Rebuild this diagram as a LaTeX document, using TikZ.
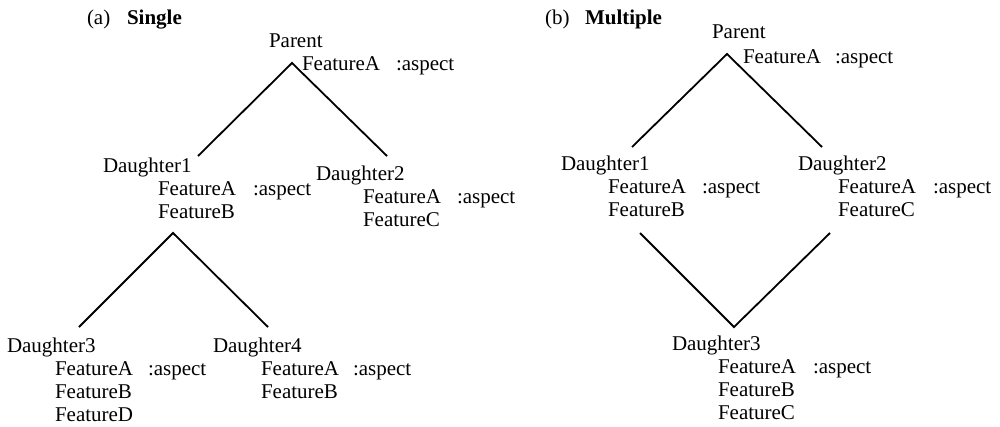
\documentclass[tikz,border=0pt]{standalone}
\usepackage{fontspec}
\setmainfont{Liberation Serif}
\begin{document}
\begin{tikzpicture}[x=1pt,y=-1pt,
  txt/.style={anchor=base west,inner sep=0pt,outer sep=0pt,font=\fontsize{21}{24}\selectfont},
  edge/.style={line width=1.8pt,line join=miter}]
\useasboundingbox (0,0) rectangle (1000,426);

% ---------- (a) Single ----------
\node[txt] (ta) at (87,24) {(a)};
\node[txt] (taw) at (127,24) {\textbf{Single}};
\node[txt] (aP) at (269,47) {Parent};
\node[txt] (aPf) at (302,70) {FeatureA};
\node[txt] (aPa) at (396,70) {:aspect};

\node[txt] (aD1) at (103,172) {Daughter1};
\node[txt] (aD1f1) at (158,195) {FeatureA};
\node[txt] (aD1a) at (253,195) {:aspect};
\node[txt] (aD1f2) at (158,218) {FeatureB};

\node[txt] (aD2) at (316,180) {Daughter2};
\node[txt] (aD2f1) at (363,203) {FeatureA};
\node[txt] (aD2a) at (457,203) {:aspect};
\node[txt] (aD2f2) at (363,226) {FeatureC};

\node[txt] (aD3) at (7,352) {Daughter3};
\node[txt] (aD3f1) at (55,375) {FeatureA};
\node[txt] (aD3a) at (148,375) {:aspect};
\node[txt] (aD3f2) at (55,398) {FeatureB};
\node[txt] (aD3f3) at (55,421) {FeatureD};

\node[txt] (aD4) at (213,352) {Daughter4};
\node[txt] (aD4f1) at (261,375) {FeatureA};
\node[txt] (aD4a) at (353,375) {:aspect};
\node[txt] (aD4f2) at (261,398) {FeatureB};

\coordinate (aPtop) at (292,63);
\coordinate (aD1up) at (198,156);
\coordinate (aD2up) at (387,156);
\coordinate (aD1low) at (173,233);
\coordinate (aD3up) at (79,327);
\coordinate (aD4up) at (268,327);

\draw[edge] (aD1up) -- (aPtop) -- (aD2up);
\draw[edge] (aD3up) -- (aD1low) -- (aD4up);

% ---------- (b) Multiple ----------
\node[txt] (tb) at (545,24) {(b)};
\node[txt] (tbw) at (585,24) {\textbf{Multiple}};
\node[txt] (bP) at (712,38) {Parent};
\node[txt] (bPf) at (743,63) {FeatureA};
\node[txt] (bPa) at (835,63) {:aspect};

\node[txt] (bD1) at (561,170) {Daughter1};
\node[txt] (bD1f1) at (608,193) {FeatureA};
\node[txt] (bD1a) at (702,193) {:aspect};
\node[txt] (bD1f2) at (608,216) {FeatureB};

\node[txt] (bD2) at (798,170) {Daughter2};
\node[txt] (bD2f1) at (838,193) {FeatureA};
\node[txt] (bD2a) at (933,193) {:aspect};
\node[txt] (bD2f2) at (838,216) {FeatureC};

\node[txt] (bD3) at (672,350) {Daughter3};
\node[txt] (bD3f1) at (718,373) {FeatureA};
\node[txt] (bD3a) at (813,373) {:aspect};
\node[txt] (bD3f2) at (718,396) {FeatureB};
\node[txt] (bD3f3) at (718,419) {FeatureC};

\coordinate (bPtop) at (727,54);
\coordinate (bD1up) at (632,147);
\coordinate (bD2up) at (822,147);
\coordinate (bD1low) at (640,233);
\coordinate (bD2low) at (830,233);
\coordinate (bD3up) at (734,327);

\draw[edge] (bD1up) -- (bPtop) -- (bD2up);
\draw[edge] (bD1low) -- (bD3up) -- (bD2low);
\end{tikzpicture}
\end{document}
